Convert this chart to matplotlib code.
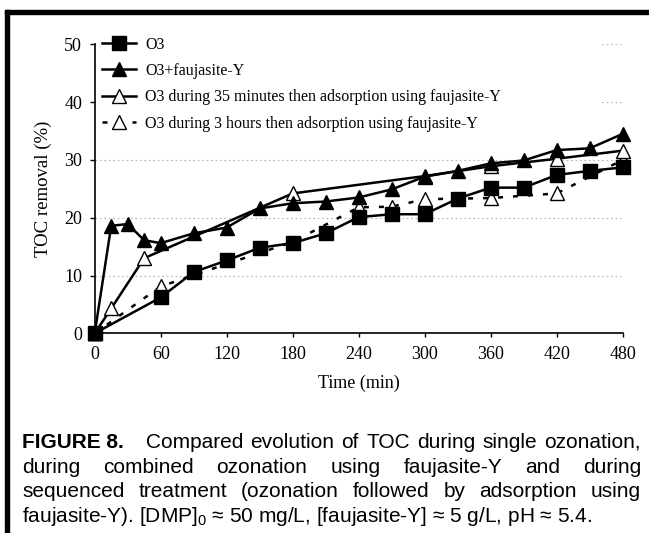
import matplotlib
matplotlib.use("Agg")
import matplotlib.pyplot as plt
from matplotlib.patches import Rectangle

# TOC removal (%) vs time (min)
time_o3 = [0, 60, 90, 120, 150, 180, 210, 240, 270, 300, 330, 360, 390, 420, 450, 480]
toc_o3 = [0, 6.2, 10.6, 12.6, 14.8, 15.6, 17.3, 20.1, 20.6, 20.6, 23.3, 25.2, 25.2, 27.4, 28.1, 28.7]

time_fy = [0, 15, 30, 45, 60, 90, 120, 150, 180, 210, 240, 270, 300, 330, 360, 390, 420, 450, 480]
toc_fy = [0, 18.6, 18.9, 16.1, 15.6, 17.3, 18.3, 21.6, 22.5, 22.8, 23.5, 24.9, 27.1, 28.1, 29.4, 29.9, 31.7, 32.0, 34.5]

time_35 = [0, 15, 45, 180, 300, 360, 420, 480]
toc_35 = [0, 4.3, 13.0, 24.2, 27.2, 28.9, 30.2, 31.6]

time_3h = [0, 60, 120, 180, 240, 270, 300, 360, 420, 480]
toc_3h = [0, 8.1, 12.0, 15.8, 21.8, 21.9, 23.2, 23.4, 24.2, 30.0]

labels = ["O3", "O3+faujasite-Y",
          "O3 during 35 minutes then adsorption using faujasite-Y",
          "O3 during 3 hours then adsorption using faujasite-Y"]

W, H = 649, 533
serif = ["Liberation Serif", "DejaVu Serif"]
sans = ["Liberation Sans", "DejaVu Sans"]
plt.rcParams["mathtext.fontset"] = "custom"
plt.rcParams["mathtext.rm"] = "Liberation Sans"


def fx(px):
    return px / W


def fy(py):
    return 1 - py / H


fig = plt.figure(figsize=(W / 100, H / 100), dpi=100)
ax = fig.add_axes([fx(94.7), fy(333.3), (622.7 - 94.7) / W, (333.3 - 44.3) / H])

lw = 1.8
ms = 10
l4, = ax.plot(time_3h, toc_3h, color="k", lw=lw, linestyle=(0, (2, 4)), marker="^", ms=ms,
              mfc="white", mec="k", mew=1, markevery=[0, 1, 4, 5, 6, 7, 8, 9], clip_on=False, zorder=2)
l3, = ax.plot(time_35, toc_35, color="k", lw=lw, marker="^", ms=ms, mfc="white", mec="k", mew=1,
              clip_on=False, zorder=3)
l2, = ax.plot(time_fy, toc_fy, color="k", lw=lw, marker="^", ms=ms, clip_on=False, zorder=4)
l1, = ax.plot(time_o3, toc_o3, color="k", lw=lw, marker="s", ms=ms, clip_on=False, zorder=5)

ax.set_xlim(0, 480)
ax.set_ylim(0, 50)
ax.set_xticks(range(0, 481, 60))
ax.set_yticks(range(0, 51, 10))
for s in ["top", "right"]:
    ax.spines[s].set_visible(False)
for s in ["left", "bottom"]:
    ax.spines[s].set_linewidth(1.2)
ax.tick_params(axis="x", length=3, width=1, pad=6)
ax.tick_params(axis="y", length=3.6, width=1, pad=5.5)
for t in ax.get_xticklabels() + ax.get_yticklabels():
    t.set_family(serif)
    t.set_fontsize(13)
ax.set_axisbelow(True)
ax.yaxis.grid(True, linestyle=(0, (1.5, 2.5)), color="#b5b5b5", lw=0.8)

ax.set_xlabel("Time (min)", family=serif, fontsize=13)
ax.set_ylabel("TOC removal (%)", family=serif, fontsize=13.5)
ax.xaxis.set_label_coords(0.5, (333.3 - 375) / 289)
ax.yaxis.set_label_coords((52 - 94.7) / 528, 0.5)

leg = ax.legend([l1, l2, l3, l4], labels, loc="upper left",
                bbox_to_anchor=(0.002, 1.049, 0.955, 0), mode="expand",
                prop={"family": serif, "size": 11.5}, handlelength=2.1, handletextpad=0.6,
                labelspacing=0.65, borderpad=0.4, borderaxespad=0, fancybox=False,
                framealpha=1)
leg.get_frame().set_edgecolor("none")
leg.get_frame().set_facecolor("white")

# page frame (top and left black bars)
fig.add_artist(Rectangle((fx(5), fy(14)), fx(644), 4 / H, color="k", transform=fig.transFigure))
fig.add_artist(Rectangle((fx(5), 0), 4 / W, fy(10), color="k", transform=fig.transFigure))

# caption, justified
X0, X1 = 22, 641
cap = dict(family=sans, fontsize=15, va="baseline")
renderer = fig.canvas.get_renderer()


def put_line(words, y, bold_first=False, first_gap=1.0):
    ts = []
    for i, w in enumerate(words):
        wt = "bold" if (bold_first and i == 0) else "normal"
        ts.append(fig.text(0, fy(y), w, fontweight=wt, **cap))
    widths = [t.get_window_extent(renderer).width for t in ts]
    gaps = [1.0] * (len(words) - 1)
    if bold_first:
        gaps[0] = first_gap
    unit = (X1 - X0 - sum(widths)) / sum(gaps)
    x = X0
    for t, w, g in zip(ts, widths, gaps + [0]):
        t.set_x(fx(x))
        x += w + g * unit


put_line(["FIGURE 8."] + "Compared evolution of TOC during single ozonation,".split(" "),
         448, bold_first=True, first_gap=3.0)
put_line("during combined ozonation using faujasite-Y and during".split(" "), 473)
put_line("sequenced treatment (ozonation followed by adsorption using".split(" "), 497)
fig.text(fx(X0), fy(522),
         r"faujasite-Y). [DMP]$_\mathrm{0}$ ≈ 50 mg/L, [faujasite-Y] ≈ 5 g/L, pH ≈ 5.4.", **cap)

fig.savefig("out.png", dpi=100)
